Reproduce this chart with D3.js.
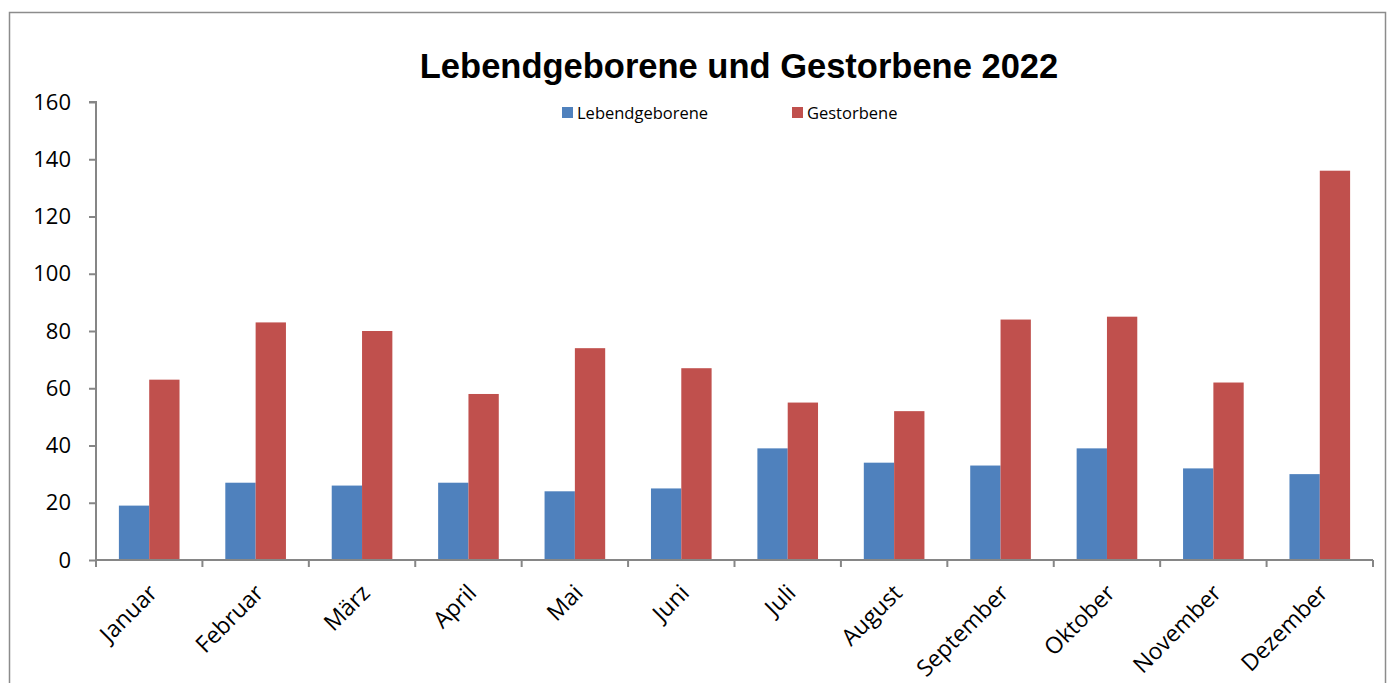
<!DOCTYPE html>
<html><head><meta charset="utf-8">
<script src="https://cdn.jsdelivr.net/npm/d3@7"></script>
<style>body{margin:0;background:#fff}svg{display:block}</style>
</head><body>
<script>
const months = ["Januar","Februar","März","April","Mai","Juni","Juli","August","September","Oktober","November","Dezember"];
const lebendgeborene = [19,27,26,27,24,25,39,34,33,39,32,30];
const gestorbene = [63,83,80,58,74,67,55,52,84,85,62,136];
const seriesNames = ["Lebendgeborene","Gestorbene"];
const yTicks = [0,20,40,60,80,100,120,140,160];
const title = "Lebendgeborene und Gestorbene 2022";

const W = 1392, H = 683;
const colors = ["#4f81bd","#c0504d"];
const svg = d3.select("body").append("svg").attr("width",W).attr("height",H);
svg.append("rect").attr("x",9.5).attr("y",12.5).attr("width",1376).attr("height",700)
  .attr("fill","#fff").attr("stroke","#8c8c8c").attr("stroke-width",1.5);

const x0 = 96, x1 = 1373, yTop = 102, yBot = 560;
const x = d3.scaleBand().domain(months).range([x0,x1]).paddingInner(0).paddingOuter(0);
const xs = d3.scaleBand().domain(seriesNames).range([0,x.bandwidth()]).paddingInner(0).paddingOuter(0.755);
const y = d3.scaleLinear().domain([0,160]).range([yBot,yTop]);

const data = months.map((m,i)=>({m, v:[lebendgeborene[i],gestorbene[i]]}));
const g = svg.append("g");
g.selectAll("g.grp").data(data).join("g").attr("class","grp")
  .attr("transform",d=>`translate(${x(d.m)},0)`)
  .selectAll("rect").data(d=>d.v.map((v,k)=>({k,v}))).join("rect")
  .attr("x",d=>xs(seriesNames[d.k])).attr("width",xs.bandwidth())
  .attr("y",d=>y(d.v)).attr("height",d=>yBot-y(d.v))
  .attr("fill",d=>colors[d.k]);

const font = "'Open Sans', 'Noto Sans', sans-serif";
// y axis
const ya = svg.append("g").attr("transform",`translate(${x0},0)`)
  .call(d3.axisLeft(y).tickValues(yTicks).tickSize(7).tickPadding(18));
ya.select(".domain").attr("stroke","#868686").attr("stroke-width",2).attr("d",`M-7,${yTop}H0V${yBot}`);
ya.selectAll(".tick line").attr("stroke","#868686").attr("stroke-width",2);
ya.selectAll(".tick text").attr("font-family",font).attr("font-size",22).attr("fill","#000");

// x axis
const xa = svg.append("g").attr("transform",`translate(0,${yBot})`);
xa.append("path").attr("d",`M${x0},0H${x1}`).attr("stroke","#868686").attr("stroke-width",2);
const tickPos = months.map(m=>x(m)).concat([x1]);
xa.selectAll("line.t").data(tickPos).join("line").attr("class","t")
  .attr("x1",d=>d).attr("x2",d=>d).attr("y1",0).attr("y2",7)
  .attr("stroke","#868686").attr("stroke-width",2);
xa.selectAll("text").data(months).join("text")
  .attr("transform",d=>`translate(${x(d)+x.bandwidth()/2-2},${23}) rotate(-45)`)
  .attr("text-anchor","end").attr("dy","0.7em")
  .attr("font-family",font).attr("font-size",23).attr("fill","#000").text(d=>d);

// title
svg.append("text").attr("x",739).attr("y",78).attr("text-anchor","middle")
  .attr("font-family","'Liberation Sans', Arial, sans-serif").attr("font-weight","bold")
  .attr("font-size",34.5).attr("fill","#000").text(title);

// legend
const lx = [562,792];
const lg = svg.selectAll("g.leg").data(seriesNames).join("g").attr("class","leg")
  .attr("transform",(d,i)=>`translate(${lx[i]},107)`);
lg.append("rect").attr("width",11).attr("height",11).attr("fill",(d,i)=>colors[i]);
lg.append("text").attr("x",15).attr("y",11.5).attr("font-family",font).attr("font-size",16.5)
  .attr("fill","#000").text(d=>d);
</script>
</body></html>
